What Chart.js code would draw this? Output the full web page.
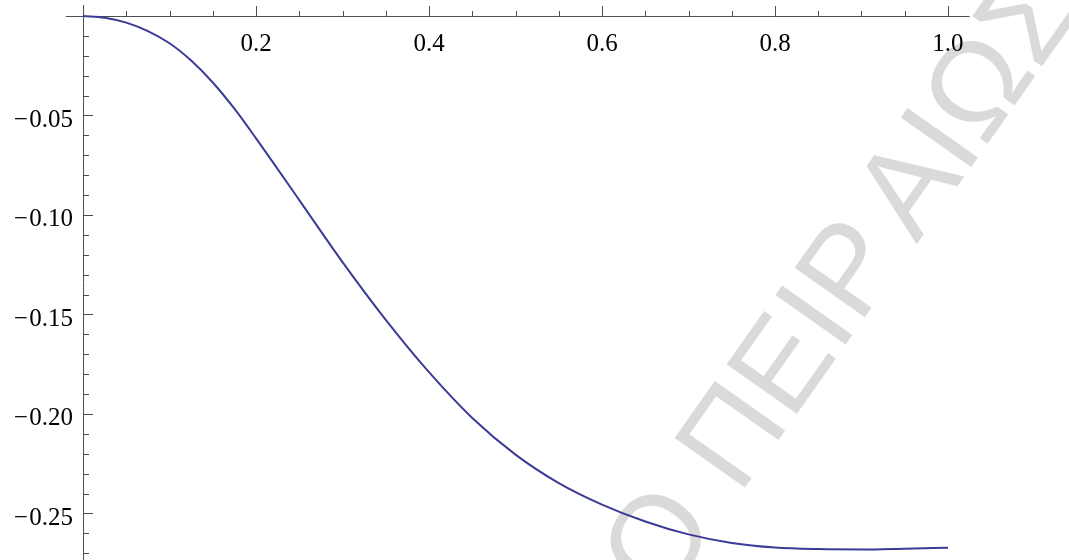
<!DOCTYPE html>
<html lang="en">
<head>
    <meta charset="UTF-8">
    <title>Plot</title>
    <script src="https://cdn.jsdelivr.net/npm/chart.js"></script>
    <style>
        body {
            margin: 0;
            background: #fff;
        }
        .chart-container {
            position: relative;
            width: 1069px;
            height: 560px;
        }
    </style>
</head>
<body>
    <div class="chart-container">
        <canvas id="plotChart"></canvas>
    </div>

    <script>
        // curve samples
        const xValues = [0, 0.025, 0.05, 0.075, 0.1, 0.125, 0.15, 0.175, 0.2, 0.25, 0.3, 0.35, 0.4, 0.45,
            0.5, 0.55, 0.6, 0.65, 0.7, 0.75, 0.8, 0.85, 0.9, 0.95, 1.0];
        const yValues = [0, -0.00085, -0.00335, -0.0076, -0.0137, -0.0224, -0.0334, -0.0466, -0.0615, -0.0925,
            -0.1237, -0.1527, -0.1790, -0.2020, -0.2204, -0.2347, -0.2455, -0.2540, -0.2605, -0.2648,
            -0.2671, -0.2679, -0.2681, -0.2677, -0.2672];

        // tick marks
        const xMajorTicks = [0, 0.2, 0.4, 0.6, 0.8, 1.0];
        const xMinorTicks = [0.05, 0.1, 0.15, 0.25, 0.3, 0.35, 0.45, 0.5, 0.55, 0.65, 0.7, 0.75, 0.85, 0.9, 0.95];
        const xTickLabels = ['', '0.2', '0.4', '0.6', '0.8', '1.0'];
        const yMajorTicks = [-0.05, -0.10, -0.15, -0.20, -0.25];
        const yTickLabels = ['0.05', '0.10', '0.15', '0.20', '0.25'];
        const yMinorTicks = [-0.01, -0.02, -0.03, -0.04, -0.06, -0.07, -0.08, -0.09, -0.11, -0.12, -0.13, -0.14,
            -0.16, -0.17, -0.18, -0.19, -0.21, -0.22, -0.23, -0.24, -0.26, -0.27];

        const watermarkHead = 'ΠΑΝΕΠΙΣΤΗΜΙΟ ';
        const watermarkMid = 'ΠΕΙΡ';
        const watermarkTail = 'ΑΙΩΣ';

        const watermark = {
            id: 'watermark',
            beforeDraw(chart) {
                const ctx = chart.ctx;
                ctx.save();
                ctx.fillStyle = '#dadada';
                ctx.font = '125px "Liberation Sans"';
                ctx.textBaseline = 'alphabetic';
                ctx.translate(739, 496);
                ctx.rotate(-54.8 * Math.PI / 180);
                ctx.textAlign = 'right';
                ctx.fillText(watermarkHead, 0, 0);
                ctx.textAlign = 'left';
                ctx.fillText(watermarkMid, 0, 0);
                // the original face has a wider Alpha, so nudge the rest along
                ctx.fillText(watermarkTail, ctx.measureText(watermarkMid).width + 16, 0);
                ctx.restore();
            }
        };

        const axes = {
            id: 'axes',
            beforeDatasetsDraw(chart) {
                const ctx = chart.ctx;
                const xs = chart.scales.x, ys = chart.scales.y;
                const x0 = xs.getPixelForValue(0);
                const y0 = ys.getPixelForValue(0);
                ctx.save();
                ctx.strokeStyle = '#4d4d4d';
                ctx.lineWidth = 1;
                ctx.beginPath();
                ctx.moveTo(xs.getPixelForValue(-0.02), y0 + 0.5);
                ctx.lineTo(xs.getPixelForValue(1.025), y0 + 0.5);
                ctx.moveTo(x0 + 0.5, ys.getPixelForValue(0.0055));
                ctx.lineTo(x0 + 0.5, chart.height);
                xMajorTicks.forEach(v => {
                    const p = Math.round(xs.getPixelForValue(v)) + 0.5;
                    ctx.moveTo(p, y0);
                    ctx.lineTo(p, y0 - 10);
                });
                xMinorTicks.forEach(v => {
                    const p = Math.round(xs.getPixelForValue(v)) + 0.5;
                    ctx.moveTo(p, y0);
                    ctx.lineTo(p, y0 - 5);
                });
                yMajorTicks.forEach(v => {
                    const p = Math.round(ys.getPixelForValue(v)) + 0.5;
                    ctx.moveTo(x0, p);
                    ctx.lineTo(x0 + 10, p);
                });
                yMinorTicks.forEach(v => {
                    const p = Math.round(ys.getPixelForValue(v)) + 0.5;
                    ctx.moveTo(x0, p);
                    ctx.lineTo(x0 + 6, p);
                });
                ctx.stroke();

                ctx.fillStyle = '#000';
                ctx.font = '25px "Liberation Serif"';
                ctx.textBaseline = 'alphabetic';
                ctx.textAlign = 'center';
                xMajorTicks.forEach((v, i) => {
                    if (xTickLabels[i]) ctx.fillText(xTickLabels[i], xs.getPixelForValue(v), y0 + 35.5);
                });
                ctx.textAlign = 'right';
                yMajorTicks.forEach((v, i) => {
                    const p = ys.getPixelForValue(v) + 11.5;
                    const numW = ctx.measureText(yTickLabels[i]).width;
                    ctx.fillText(yTickLabels[i], x0 - 10, p);
                    ctx.fillText('\u2212', x0 - 10 - numW - 1.5, p);
                });
                ctx.restore();
            }
        };

        const ctx = document.getElementById('plotChart').getContext('2d');
        new Chart(ctx, {
            type: 'scatter',
            data: {
                datasets: [{
                    data: xValues.map((x, i) => ({ x: x, y: yValues[i] })),
                    showLine: true,
                    borderColor: '#3b3b98',
                    borderWidth: 2,
                    pointRadius: 0,
                    cubicInterpolationMode: 'monotone'
                }]
            },
            options: {
                responsive: true,
                maintainAspectRatio: false,
                animation: false,
                layout: { padding: 0 },
                plugins: {
                    legend: { display: false },
                    tooltip: { enabled: false }
                },
                scales: {
                    x: { type: 'linear', display: false, min: -0.096, max: 1.1399 },
                    y: { type: 'linear', display: false, min: -0.27337, max: 0.00804 }
                }
            },
            plugins: [watermark, axes]
        });
    </script>
</body>
</html>
